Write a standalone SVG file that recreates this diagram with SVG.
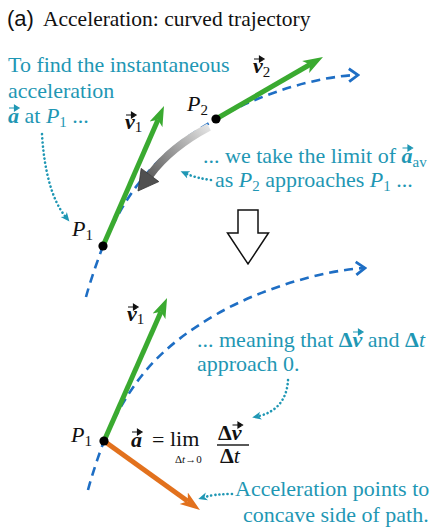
<svg xmlns="http://www.w3.org/2000/svg" width="436" height="528" viewBox="0 0 436 528" font-family="'Liberation Serif', 'DejaVu Serif', serif">
<style>
.ser{font-family:"Liberation Serif","DejaVu Serif",serif;}
.teal{fill:#1f97b4;font-size:22px;}
.blk{fill:#111;font-size:22px;}
.bi{font-weight:bold;font-style:italic;}
.it{font-style:italic;}
.b{font-weight:bold;}
.sub{font-size:15px;}
.traj{fill:none;stroke:#1e6ec4;stroke-width:2.6;stroke-dasharray:9 6;}
.vel{stroke:#3aaa30;stroke-width:5;fill:none;marker-end:url(#hg);}
.acc{stroke:#e2711d;stroke-width:5;fill:none;marker-end:url(#ho);}
.note{fill:none;stroke:#1f97b4;stroke-width:2.6;stroke-linecap:round;stroke-dasharray:0.1 4;marker-end:url(#hn);}
.ovk{fill:#111;stroke:#111;stroke-width:1.2;}
.ovt{fill:#1f97b4;stroke:#1f97b4;stroke-width:1.2;}
</style>
<defs>
<marker id="hg" markerUnits="userSpaceOnUse" markerWidth="22" markerHeight="16" viewBox="0 -8 22 16" refX="5" refY="0" orient="auto"><path d="M0,-7 L20,0 L0,7 L5,0 Z" fill="#3aaa30"/></marker>
<marker id="ho" markerUnits="userSpaceOnUse" markerWidth="22" markerHeight="16" viewBox="0 -8 22 16" refX="5" refY="0" orient="auto"><path d="M0,-7 L20,0 L0,7 L5,0 Z" fill="#e2711d"/></marker>
<marker id="hb" markerUnits="userSpaceOnUse" markerWidth="14" markerHeight="16" viewBox="-12 -8 14 16" refX="0" refY="0" orient="auto"><path d="M-9,-6.5 L0,0 L-9,6.5" fill="none" stroke="#1e6ec4" stroke-width="2.8"/></marker>
<marker id="hn" markerUnits="userSpaceOnUse" markerWidth="12" markerHeight="10" viewBox="0 -5 12 10" refX="2" refY="0" orient="auto"><path d="M0,-4 L9,0 L0,4 L2.5,0 Z" fill="#1f97b4"/></marker>
<path id="ovr" d="M0,0 H8 M5.5,-2.8 L10,0 L5.5,2.8 Z"/>
<linearGradient id="gg" gradientUnits="userSpaceOnUse" x1="209" y1="127" x2="145" y2="185"><stop offset="0" stop-color="#e4e4e4"/><stop offset="1" stop-color="#4f4f4f"/></linearGradient>
</defs>

<g id="title">
<text x="7" y="26" font-family="'Liberation Sans', Arial, sans-serif" font-size="22" fill="#111">(a)</text>
<text class="ser" x="43" y="26" font-size="21.5" fill="#111">Acceleration: curved trajectory</text>
</g>

<g id="connectors">
<path class="traj" d="M86,297 C90,282 97,262 103,246 C130.5,183 160,151.5 216,119 C259,94 318,76 358,75" marker-end="url(#hb)"/>
<path class="traj" d="M88,490 C92,475 98,457 104,441 C131.5,378 161,346.5 217,314 C260,289 324,270 365,268" marker-end="url(#hb)"/>
<g id="limit-arrow">
<path d="M209,127 Q171,147 150,175" stroke="url(#gg)" stroke-width="8" fill="none"/>
<path d="M158.8,181.6 L138,191 L141.2,168.4 Z" fill="#505050" stroke="#333" stroke-width="0.8"/>
</g>
<line class="vel" x1="103" y1="246" x2="158" y2="119.75"/>
<line class="vel" x1="216" y1="119" x2="310" y2="64.5"/>
<line class="vel" x1="104" y1="441" x2="161" y2="311.7"/>
<line class="acc" x1="104" y1="441" x2="187.8" y2="501.2"/>
<path class="note" d="M42,134 C44,170 52,200 65,216"/>
<path class="note" d="M211,180 Q196,178 187,174"/>
<path class="note" d="M288,380 C287,400 276,412 259,416"/>
<path class="note" d="M232,494 Q215,494 205,497"/>
</g>

<g id="p1-top"><circle cx="103" cy="246" r="4.6" fill="#000"/>
<text class="blk ser" x="72" y="236"><tspan class="it">P</tspan><tspan class="sub" dy="4">1</tspan></text></g>
<g id="p2"><circle cx="216" cy="119" r="4.6" fill="#000"/>
<text class="blk ser" x="187" y="111"><tspan class="it">P</tspan><tspan class="sub" dy="4">2</tspan></text></g>
<g id="v1-top-label"><text class="blk ser" x="125" y="129"><tspan class="bi">v</tspan><tspan class="sub" dy="3">1</tspan></text><use href="#ovr" x="126" y="115" class="ovk"/></g>
<g id="v2-label"><text class="blk ser" x="253" y="73"><tspan class="bi">v</tspan><tspan class="sub" dy="4">2</tspan></text><use href="#ovr" x="254" y="59" class="ovk"/></g>

<g id="hollow-arrow"><path d="M238,210 H258 V233 H268.5 L248,264 L227.5,233 H238 Z" fill="#fff" stroke="#111" stroke-width="1.5"/></g>

<g id="p1-bottom"><circle cx="104" cy="441" r="4.6" fill="#000"/>
<text class="blk ser" x="71" y="442"><tspan class="it">P</tspan><tspan class="sub" dy="4">1</tspan></text></g>
<g id="v1-bottom-label"><text class="blk ser" x="127" y="321"><tspan class="bi">v</tspan><tspan class="sub" dy="3">1</tspan></text><use href="#ovr" x="128" y="307" class="ovk"/></g>

<g id="equation">
<text class="blk ser" x="131" y="447"><tspan class="bi">a</tspan></text><use href="#ovr" x="132" y="432" class="ovk"/>
<text class="blk ser" x="152" y="447">=</text>
<text class="blk ser" x="170" y="446">lim</text>
<text class="ser" x="175" y="463" font-size="11" fill="#111">Δ<tspan class="it">t</tspan>→0</text>
<text class="blk ser" x="218" y="440"><tspan class="b">Δ</tspan><tspan class="bi">v</tspan></text><use href="#ovr" x="232.5" y="425" class="ovk"/>
<line x1="217" y1="445" x2="249" y2="445" stroke="#111" stroke-width="1.4"/>
<text class="blk ser" x="220" y="463"><tspan class="b">Δ</tspan><tspan class="it">t</tspan></text>
</g>

<g id="notes">
<text class="teal ser" x="8" y="72">To find the instantaneous</text>
<text class="teal ser" x="8" y="98">acceleration</text>
<text class="teal ser" x="8" y="123"><tspan class="bi">a</tspan> at <tspan class="it">P</tspan><tspan class="sub" dy="4">1</tspan><tspan dy="-4"> ...</tspan></text>
<use href="#ovr" x="9" y="108" class="ovt"/>
<text class="teal ser" x="203" y="163">... we take the limit of <tspan class="bi">a</tspan><tspan class="sub" dy="4">av</tspan></text>
<use href="#ovr" x="402.5" y="148" class="ovt"/>
<text class="teal ser" x="215" y="187">as <tspan class="it">P</tspan><tspan class="sub" dy="4">2</tspan><tspan dy="-4"> approaches </tspan><tspan class="it">P</tspan><tspan class="sub" dy="4">1</tspan><tspan dy="-4"> ...</tspan></text>
<text class="teal ser" x="197" y="347">... meaning that <tspan class="b">Δ</tspan><tspan class="bi">v</tspan> and <tspan class="b">Δ</tspan><tspan class="it">t</tspan></text>
<use href="#ovr" x="353" y="332" class="ovt"/>
<text class="teal ser" x="197" y="371">approach 0.</text>
<text class="teal ser" x="235" y="496">Acceleration points to</text>
<text class="teal ser" x="243" y="522">concave side of path.</text>
</g>
</svg>
